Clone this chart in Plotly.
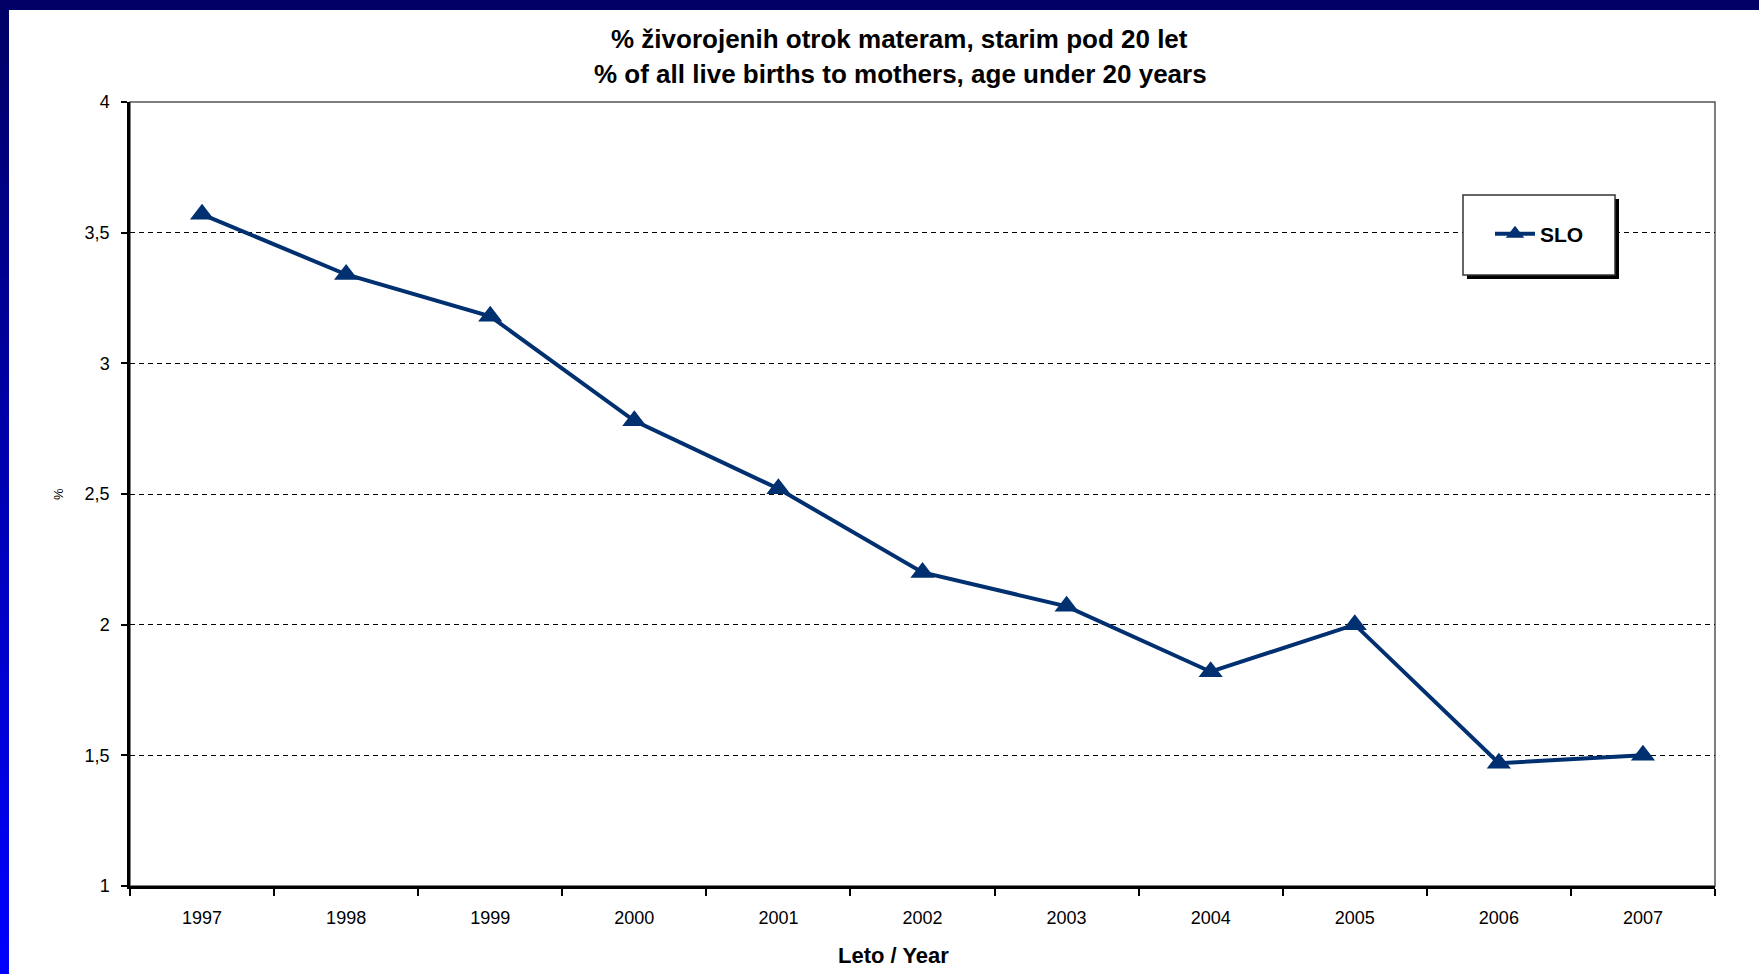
import plotly.graph_objects as go

# data
years = ['1997', '1998', '1999', '2000', '2001', '2002', '2003', '2004', '2005', '2006', '2007']
slo = [3.57, 3.34, 3.18, 2.78, 2.52, 2.20, 2.07, 1.82, 2.00, 1.47, 1.50]
y_ticks = [1, 1.5, 2, 2.5, 3, 3.5, 4]
y_tick_labels = ['1', '1,5', '2', '2,5', '3', '3,5', '4']

W, H = 1759, 974
L, R, T, B = 130, 44, 102, 88
PW, PH = W - L - R, H - T - B


def px(x):
    return (x - L) / PW


def py(y):
    return (H - B - y) / PH


fig = go.Figure(go.Scatter(
    x=years,
    y=slo,
    name='<b>SLO</b>',
    mode='lines+markers',
    line=dict(color='#003070', width=4),
    marker=dict(symbol='triangle-up', size=21, color='#003070'),
))

shapes = []
# plot frame (top/right grey)
shapes.append(dict(type='rect', xref='paper', yref='paper', x0=0, x1=1, y0=0, y1=1,
                   line=dict(color='#555555', width=1.5), layer='below'))
# legend box with shadow
shapes.append(dict(type='rect', xref='paper', yref='paper',
                   x0=px(1467), x1=px(1619), y0=py(279), y1=py(199),
                   fillcolor='black', line=dict(width=0)))
shapes.append(dict(type='rect', xref='paper', yref='paper',
                   x0=px(1463), x1=px(1615), y0=py(275), y1=py(195),
                   fillcolor='white', line=dict(color='#333333', width=1.5)))
# slide frame: navy top band and a gradient left band
shapes.append(dict(type='rect', xref='paper', yref='paper',
                   x0=px(0), x1=px(W), y0=py(10), y1=py(0),
                   fillcolor='#000066', line=dict(width=0)))
n = 60
for i in range(n):
    f = i / (n - 1)
    b = int(102 + (255 - 102) * f)
    shapes.append(dict(type='rect', xref='paper', yref='paper',
                       x0=px(0), x1=px(9),
                       y0=py(H * (i + 1) / n + 1), y1=py(H * i / n),
                       fillcolor='rgb(0,0,%d)' % b, line=dict(width=0)))

fig.update_layout(
    width=W, height=H,
    margin=dict(l=L, r=R, t=T, b=B, autoexpand=False),
    paper_bgcolor='white',
    plot_bgcolor='white',
    font=dict(family='Liberation Sans, Arial', color='black'),
    shapes=shapes,
    showlegend=True,
    legend=dict(x=px(1490), y=py(234), xanchor='left', yanchor='middle',
                bgcolor='rgba(0,0,0,0)', font=dict(size=21, family='Liberation Sans, Arial'),
                itemwidth=40),
    annotations=[
        dict(text='<b>% živorojenih otrok materam, starim pod 20 let</b>',
             xref='paper', yref='paper', x=px(899), y=py(39), showarrow=False,
             xanchor='center', yanchor='middle', font=dict(size=26)),
        dict(text='<b>% of all live births to mothers, age under 20 years</b>',
             xref='paper', yref='paper', x=px(900), y=py(74), showarrow=False,
             xanchor='center', yanchor='middle', font=dict(size=26)),
        dict(text='<b>Leto / Year</b>',
             xref='paper', yref='paper', x=px(893), y=py(956), showarrow=False,
             xanchor='center', yanchor='middle', font=dict(size=22)),
        dict(text='%', textangle=-90,
             xref='paper', yref='paper', x=px(58), y=py(494), showarrow=False,
             xanchor='center', yanchor='middle', font=dict(size=13)),
    ],
    xaxis=dict(
        type='category',
        range=[-0.5, len(years) - 0.5],
        automargin=False,
        tickson='boundaries',
        ticks='outside', ticklen=7, tickwidth=2, tickcolor='black',
        ticklabelstandoff=14,
        showline=True, linecolor='black', linewidth=2.5,
        showgrid=False,
        tickfont=dict(size=18),
    ),
    yaxis=dict(
        range=[1, 4],
        automargin=False,
        tickvals=y_ticks, ticktext=y_tick_labels,
        ticks='outside', ticklen=6, tickwidth=2, tickcolor='black',
        ticklabelstandoff=8,
        showline=True, linecolor='black', linewidth=2.5,
        showgrid=True, gridcolor='black', gridwidth=1, griddash='5px,4px',
        zeroline=False,
        tickfont=dict(size=18),
    ),
)

fig.write_html("out.html", config={'displayModeBar': False},
               post_script="document.body.style.margin='0';")
